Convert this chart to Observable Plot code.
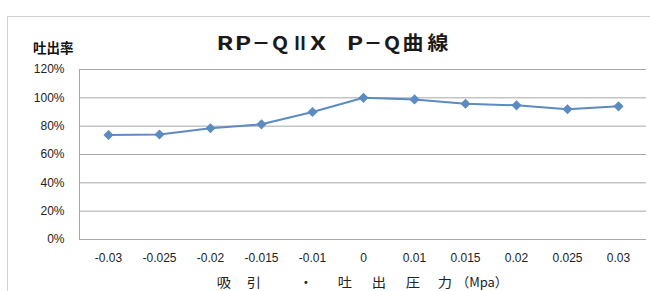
<!DOCTYPE html>
<html><head><meta charset="utf-8">
<script src="https://cdn.jsdelivr.net/npm/d3@7"></script>
<script src="https://cdn.jsdelivr.net/npm/@observablehq/plot@0.6"></script>
<style>
html,body{margin:0;padding:0;background:#fff;}
#wrap{position:relative;width:650px;height:291px;overflow:hidden;font-family:"Liberation Sans",Arial,sans-serif;}
#frame{position:absolute;left:7px;top:16px;width:700px;height:400px;border:1px solid #d0d0d0;box-sizing:border-box;}
#title{position:absolute;left:0;top:0;width:650px;height:60px;font:bold 19px "Noto Sans CJK JP",sans-serif;line-height:19px;color:#1a1a1a;}
#title span{position:absolute;top:32px;white-space:pre;}
#ylab{position:absolute;left:33px;top:40px;font:bold 13.5px "Noto Sans CJK JP",sans-serif;line-height:14px;color:#111;}
#xlabel span{position:absolute;top:275px;font:13px "Noto Sans CJK JP",sans-serif;line-height:13px;color:#222;white-space:pre;}
#chart{position:absolute;left:0;top:0;}
</style></head>
<body>
<div id="wrap">
<div id="frame"></div>
<div id="chart"></div>
<div id="title"></div>
<div id="ylab">吐出率</div>
<div id="xlabel"></div>
</div>
<script>
const titleChars = ["R","P","－","Q","Ⅱ","X"," ","P","－","Q","曲","線"];
const titleCenters = [225,242.5,260.5,280,300,317.5,336,354.5,372.5,391.5,413,437.5];
const titleScales = [1.3,1.3,0.95,1.1,0.95,1.35,1,1.3,0.95,1.1,1.1,1.1];
const pressures = ["-0.03","-0.025","-0.02","-0.015","-0.01","0","0.01","0.015","0.02","0.025","0.03"];
const rates = [0.738,0.741,0.785,0.813,0.90,1.00,0.989,0.958,0.947,0.919,0.94];
const yTicks = [0,0.2,0.4,0.6,0.8,1.0,1.2];
const xTitleParts = ["吸","引","・","吐","出","圧","力","（Mpa）"];
const xTitleCenters = [224,254,306,345,379,413,445,482];
const xTitleScales = [1.1,1.1,1.1,1.1,1.1,1.1,1.1,1.0];

const tEl = document.getElementById("title");
titleChars.forEach((ch,i)=>{
  const s = document.createElement("span");
  s.textContent = ch;
  s.style.left = titleCenters[i]+"px";
  s.style.transform = `translateX(-50%) scaleX(${titleScales[i]})`;
  tEl.appendChild(s);
});

const xl = document.getElementById("xlabel");
xTitleParts.forEach((t,i)=>{
  const s = document.createElement("span");
  s.textContent=t; s.style.left = xTitleCenters[i]+"px";
  s.style.transform = `translateX(-50%) scaleX(${xTitleScales[i]})`;
  xl.appendChild(s);
});

const data = pressures.map((p,i)=>({p, r:rates[i]}));
const lineColor = "#5b8bc2";
const chart = Plot.plot({
  width:650, height:291,
  marginLeft:79, marginRight:4, marginTop:69, marginBottom:52,
  style:{fontFamily:'"Liberation Sans",Arial,sans-serif', fontSize:"12px", color:"#222", background:"transparent"},
  x:{type:"point", domain:pressures, padding:0.5, label:null},
  y:{domain:[0,1.2], label:null},
  marks:[
    Plot.gridY(yTicks,{stroke:"#a8a8a8", strokeOpacity:1}),
    Plot.frame({anchor:"left", stroke:"#a8a8a8"}),
    Plot.axisY(yTicks,{tickFormat:d3.format(".0%"), tickSize:0, tickPadding:15, fontSize:12}),
    Plot.axisX(pressures,{tickSize:0, tickPadding:14, fontSize:12}),
    Plot.line(data,{x:"p", y:"r", stroke:lineColor, strokeWidth:2}),
    Plot.dot(data,{x:"p", y:"r", symbol:"diamond2", r:3.6, fill:lineColor, stroke:lineColor})
  ]
});
document.getElementById("chart").appendChild(chart);
</script>
</body></html>
